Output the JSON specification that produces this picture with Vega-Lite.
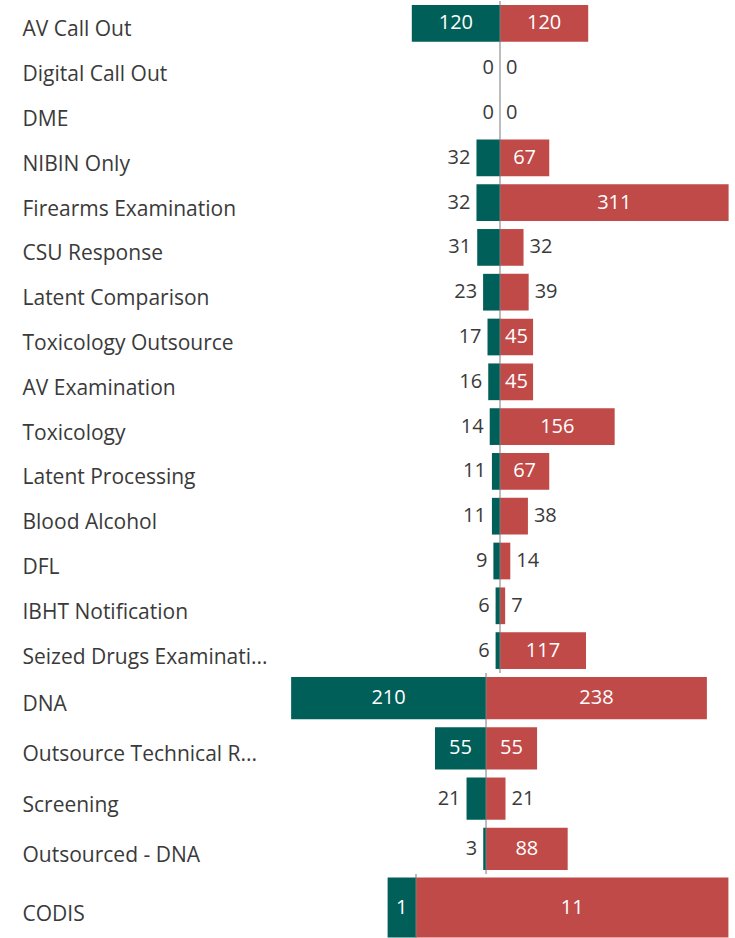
{
  "$schema": "https://vega.github.io/schema/vega-lite/v6.json",
  "background": "white",
  "padding": {"left": 22, "right": 5, "top": 0, "bottom": 0},
  "spacing": 0,
  "bounds": "flush",
  "config": {
    "view": {"stroke": null},
    "font": "Open Sans",
    "axisY": {
      "domain": false, "ticks": false, "tickSize": 0, "grid": false, "title": null,
      "labelAlign": "left", "labelPadding": 258, "labelBaseline": "alphabetic", "labelOffset": 13,
      "labelFont": "Open Sans", "labelFontSize": 21, "labelColor": "#3a3a3a", "labelLimit": 300
    }
  },
  "datasets": {
    "p1": [
      {"category": "AV Call Out", "series": "Left", "value": 120},
      {"category": "AV Call Out", "series": "Right", "value": 120},
      {"category": "Digital Call Out", "series": "Left", "value": 0},
      {"category": "Digital Call Out", "series": "Right", "value": 0},
      {"category": "DME", "series": "Left", "value": 0},
      {"category": "DME", "series": "Right", "value": 0},
      {"category": "NIBIN Only", "series": "Left", "value": 32},
      {"category": "NIBIN Only", "series": "Right", "value": 67},
      {"category": "Firearms Examination", "series": "Left", "value": 32},
      {"category": "Firearms Examination", "series": "Right", "value": 311},
      {"category": "CSU Response", "series": "Left", "value": 31},
      {"category": "CSU Response", "series": "Right", "value": 32},
      {"category": "Latent Comparison", "series": "Left", "value": 23},
      {"category": "Latent Comparison", "series": "Right", "value": 39},
      {"category": "Toxicology Outsource", "series": "Left", "value": 17},
      {"category": "Toxicology Outsource", "series": "Right", "value": 45},
      {"category": "AV Examination", "series": "Left", "value": 16},
      {"category": "AV Examination", "series": "Right", "value": 45},
      {"category": "Toxicology", "series": "Left", "value": 14},
      {"category": "Toxicology", "series": "Right", "value": 156},
      {"category": "Latent Processing", "series": "Left", "value": 11},
      {"category": "Latent Processing", "series": "Right", "value": 67},
      {"category": "Blood Alcohol", "series": "Left", "value": 11},
      {"category": "Blood Alcohol", "series": "Right", "value": 38},
      {"category": "DFL", "series": "Left", "value": 9},
      {"category": "DFL", "series": "Right", "value": 14},
      {"category": "IBHT Notification", "series": "Left", "value": 6},
      {"category": "IBHT Notification", "series": "Right", "value": 7},
      {"category": "Seized Drugs Examinati...", "series": "Left", "value": 6},
      {"category": "Seized Drugs Examinati...", "series": "Right", "value": 117}
    ],
    "p2": [
      {"category": "DNA", "series": "Left", "value": 210},
      {"category": "DNA", "series": "Right", "value": 238},
      {"category": "Outsource Technical R...", "series": "Left", "value": 55},
      {"category": "Outsource Technical R...", "series": "Right", "value": 55},
      {"category": "Screening", "series": "Left", "value": 21},
      {"category": "Screening", "series": "Right", "value": 21},
      {"category": "Outsourced - DNA", "series": "Left", "value": 3},
      {"category": "Outsourced - DNA", "series": "Right", "value": 88}
    ],
    "p3": [
      {"category": "CODIS", "series": "Left", "value": 1},
      {"category": "CODIS", "series": "Right", "value": 11}
    ]
  },
  "vconcat": [
    {
      "width": 450, "height": 672,
      "data": {"name": "p1"},
      "transform": [
        {"calculate": "datum.series == 'Left' ? -datum.value : datum.value", "as": "signed"},
        {"calculate": "datum.signed / 2", "as": "mid"}
      ],
      "layer": [
        {
          "mark": {"type": "bar"},
          "encoding": {
            "y": {"field": "category", "type": "nominal", "sort": null, "scale": {"paddingInner": 0.18, "paddingOuter": 0.09}},
            "x": {"field": "signed", "type": "quantitative", "stack": null, "scale": {"domain": [-299.3, 312.9], "nice": false, "zero": false}, "axis": null},
            "color": {"field": "series", "type": "nominal", "scale": {"domain": ["Left", "Right"], "range": ["#005F58", "#C04A48"]}, "legend": null}
          }
        },
        {
          "data": {"values": [{}]},
          "mark": {"type": "rule", "color": "#7a7a7a", "strokeWidth": 1},
          "encoding": {"x": {"datum": 0, "type": "quantitative", "axis": null}}
        },
        {
          "transform": [{"filter": "datum.value >= 42"}],
          "mark": {"type": "text", "color": "white", "font": "Open Sans", "fontSize": 20, "baseline": "middle", "align": "center"},
          "encoding": {
            "y": {"field": "category", "type": "nominal", "sort": null},
            "x": {"field": "mid", "type": "quantitative", "axis": null},
            "text": {"field": "value", "type": "quantitative"}
          }
        },
        {
          "transform": [{"filter": "datum.value < 42 && datum.series == 'Left'"}],
          "mark": {"type": "text", "color": "#3a3a3a", "font": "Open Sans", "fontSize": 20, "baseline": "middle", "align": "right", "dx": -6},
          "encoding": {
            "y": {"field": "category", "type": "nominal", "sort": null},
            "x": {"field": "signed", "type": "quantitative", "axis": null},
            "text": {"field": "value", "type": "quantitative"}
          }
        },
        {
          "transform": [{"filter": "datum.value < 42 && datum.series == 'Right'"}],
          "mark": {"type": "text", "color": "#3a3a3a", "font": "Open Sans", "fontSize": 20, "baseline": "middle", "align": "left", "dx": 6},
          "encoding": {
            "y": {"field": "category", "type": "nominal", "sort": null},
            "x": {"field": "signed", "type": "quantitative", "axis": null},
            "text": {"field": "value", "type": "quantitative"}
          }
        }
      ]
    },
    {
      "width": 450, "height": 201,
      "data": {"name": "p2"},
      "transform": [
        {"calculate": "datum.series == 'Left' ? -datum.value : datum.value", "as": "signed"},
        {"calculate": "datum.signed / 2", "as": "mid"}
      ],
      "layer": [
        {
          "mark": {"type": "bar"},
          "encoding": {
            "y": {"field": "category", "type": "nominal", "sort": null, "scale": {"paddingInner": 0.16, "paddingOuter": 0.08}},
            "x": {"field": "signed", "type": "quantitative", "stack": null, "scale": {"domain": [-222.0, 262.9], "nice": false, "zero": false}, "axis": null},
            "color": {"field": "series", "type": "nominal", "scale": {"domain": ["Left", "Right"], "range": ["#005F58", "#C04A48"]}, "legend": null}
          }
        },
        {
          "data": {"values": [{}]},
          "mark": {"type": "rule", "color": "#7a7a7a", "strokeWidth": 1},
          "encoding": {"x": {"datum": 0, "type": "quantitative", "axis": null}}
        },
        {
          "transform": [{"filter": "datum.value >= 32"}],
          "mark": {"type": "text", "color": "white", "font": "Open Sans", "fontSize": 20, "baseline": "middle", "align": "center"},
          "encoding": {
            "y": {"field": "category", "type": "nominal", "sort": null},
            "x": {"field": "mid", "type": "quantitative", "axis": null},
            "text": {"field": "value", "type": "quantitative"}
          }
        },
        {
          "transform": [{"filter": "datum.value < 32 && datum.series == 'Left'"}],
          "mark": {"type": "text", "color": "#3a3a3a", "font": "Open Sans", "fontSize": 20, "baseline": "middle", "align": "right", "dx": -6},
          "encoding": {
            "y": {"field": "category", "type": "nominal", "sort": null},
            "x": {"field": "signed", "type": "quantitative", "axis": null},
            "text": {"field": "value", "type": "quantitative"}
          }
        },
        {
          "transform": [{"filter": "datum.value < 32 && datum.series == 'Right'"}],
          "mark": {"type": "text", "color": "#3a3a3a", "font": "Open Sans", "fontSize": 20, "baseline": "middle", "align": "left", "dx": 6},
          "encoding": {
            "y": {"field": "category", "type": "nominal", "sort": null},
            "x": {"field": "signed", "type": "quantitative", "axis": null},
            "text": {"field": "value", "type": "quantitative"}
          }
        }
      ]
    },
    {
      "width": 450, "height": 67,
      "data": {"name": "p3"},
      "transform": [
        {"calculate": "datum.series == 'Left' ? -datum.value : datum.value", "as": "signed"},
        {"calculate": "datum.signed / 2", "as": "mid"}
      ],
      "layer": [
        {
          "mark": {"type": "bar"},
          "encoding": {
            "y": {"field": "category", "type": "nominal", "sort": null, "scale": {"paddingInner": 0.102, "paddingOuter": 0.051}},
            "x": {"field": "signed", "type": "quantitative", "stack": null, "scale": {"domain": [-4.789, 11.056], "nice": false, "zero": false}, "axis": null},
            "color": {"field": "series", "type": "nominal", "scale": {"domain": ["Left", "Right"], "range": ["#005F58", "#C04A48"]}, "legend": null}
          }
        },
        {
          "data": {"values": [{}]},
          "mark": {"type": "rule", "color": "#7a7a7a", "strokeWidth": 1},
          "encoding": {"x": {"datum": 0, "type": "quantitative", "axis": null}}
        },
        {
          "transform": [{"filter": "datum.value >= 1"}],
          "mark": {"type": "text", "color": "white", "font": "Open Sans", "fontSize": 20, "baseline": "middle", "align": "center"},
          "encoding": {
            "y": {"field": "category", "type": "nominal", "sort": null},
            "x": {"field": "mid", "type": "quantitative", "axis": null},
            "text": {"field": "value", "type": "quantitative"}
          }
        }
      ]
    }
  ]
}
